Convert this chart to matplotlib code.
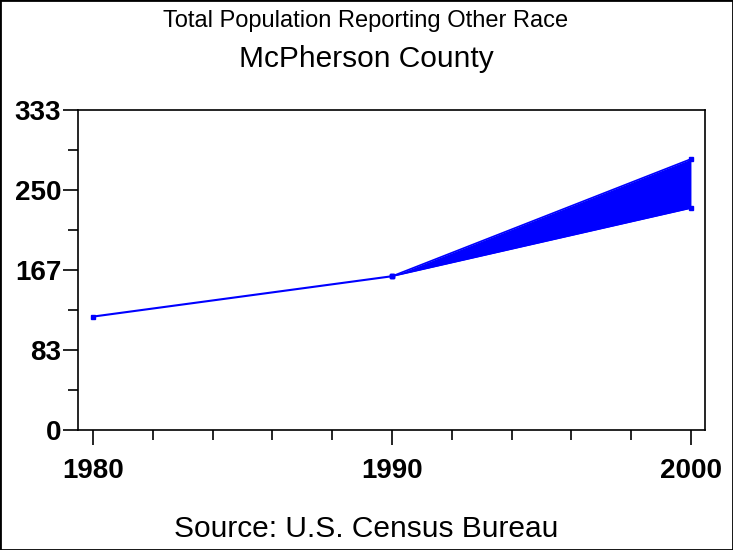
import matplotlib
matplotlib.use("Agg")
import matplotlib.pyplot as plt
from matplotlib.patches import Rectangle
from matplotlib.ticker import FixedLocator, MultipleLocator

years = [1980, 1990]
values = [118, 160]
proj_years = [1990, 2000]
proj_low = [160, 231]
proj_high = [160, 282]
yticks = [0, 83, 167, 250, 333]
ytick_labels = ["0", "83", "167", "250", "333"]
xticks = [1980, 1990, 2000]
xtick_labels = ["1980", "1990", "2000"]

plt.rcParams['font.family'] = ['Liberation Sans', 'DejaVu Sans']

fig = plt.figure(figsize=(7.33, 5.5), dpi=100)
ax = fig.add_axes([78/733, 1-430/550, (705-78)/733, 320/550])

blue = (0, 0, 1)
ax.plot(years, values, color=blue, lw=1.5, marker='s', ms=3)
ax.fill_between(proj_years, proj_low, proj_high, color=blue, lw=0)
ax.plot(proj_years, proj_high, color=blue, lw=1.2, marker='s', ms=3)
ax.plot(proj_years, proj_low, color=blue, lw=1.2, marker='s', ms=3)

ax.set_xlim(1979.5, 2000.47)
ax.set_ylim(0, 333)
ax.set_yticks(yticks)
ax.set_yticklabels(ytick_labels)
ax.set_xticks(xticks)
ax.set_xticklabels(xtick_labels)
ax.yaxis.set_minor_locator(FixedLocator([41.5, 125, 208.5, 291.5]))
ax.xaxis.set_minor_locator(MultipleLocator(2))
ax.tick_params(which='major', direction='out', length=11, width=1.2, labelsize=20)
ax.tick_params(which='minor', direction='out', length=7, width=1.2)
ax.tick_params(axis='y', which='major', pad=1)
ax.tick_params(axis='x', which='major', pad=9)
for lab in ax.get_xticklabels() + ax.get_yticklabels():
    lab.set_fontweight('bold')
for s in ax.spines.values():
    s.set_linewidth(1.2)

fig.text(366/733, 1-21/550, "Total Population Reporting Other Race", ha='center', va='center', fontsize=17)
fig.text(366/733, 1-59/550, "McPherson County", ha='center', va='center', fontsize=21.5)
fig.text(366/733, 1-529/550, "Source: U.S. Census Bureau", ha='center', va='center', fontsize=21.5)

fig.patches.append(Rectangle((0, 0), 1, 1, transform=fig.transFigure, fill=False,
                             edgecolor='black', lw=2))

fig.savefig("out.png", dpi=100)
